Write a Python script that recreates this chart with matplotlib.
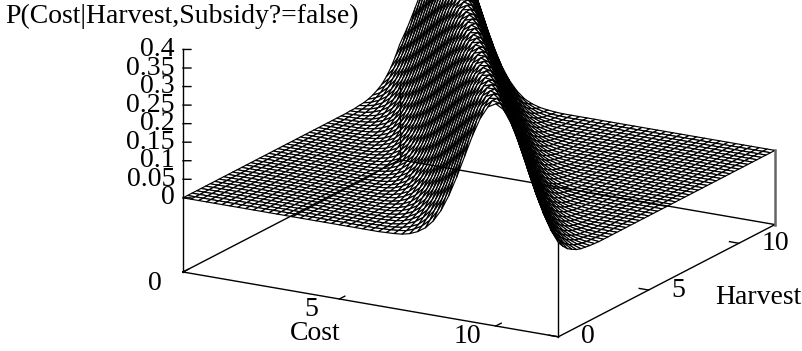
import numpy as np
import matplotlib
matplotlib.use('Agg')
import matplotlib.pyplot as plt
from mpl_toolkits.mplot3d import proj3d

# cost and harvest grid, 48 cells each way
cost = [0.25 * i for i in range(49)]
harvest = [0.25 * j for j in range(49)]

# density across the ridge (in thousandths), one row per sub-cell position of the ridge
ridge_rows = [
    [1,2,4,9,18,32,54,86,130,183,242,301,352,387,399,387,352,301,242,183,130,86,54,32,18,9,4,2,1],
    [1,2,4,9,17,30,51,83,125,177,236,296,348,384,399,389,356,307,248,188,135,90,57,34,19,10,5,2,1],
    [1,2,4,8,16,28,49,79,120,171,230,290,343,381,398,391,361,312,254,194,140,94,60,36,20,10,5,2,1],
    [1,2,4,7,15,27,46,75,115,166,224,284,338,378,398,393,364,318,260,200,145,98,62,38,21,11,6,3,1],
    [1,1,3,7,14,25,44,72,111,161,218,278,333,375,397,394,368,323,266,206,150,102,66,40,22,12,6,3,1],
    [1,1,3,6,13,24,42,69,107,155,212,272,328,372,396,396,372,328,272,212,155,107,69,42,24,13,6,3,1],
    [1,1,3,6,12,22,40,66,102,150,206,266,323,368,394,397,375,333,278,218,161,111,72,44,25,14,7,3,1],
    [1,1,3,6,11,21,38,62,98,145,200,260,318,364,393,398,378,338,284,224,166,115,75,46,27,15,7,4,2],
    [0,1,2,5,10,20,36,60,94,140,194,254,312,361,391,398,381,343,290,230,171,120,79,49,28,16,8,4,2],
    [0,1,2,5,10,19,34,57,90,135,188,248,307,356,389,399,384,348,296,236,177,125,83,51,30,17,9,4,2],
]
# for each harvest line: which ridge row it shows and the cost cell where that row starts
row_shape = [0,3,6,9,2,5,8,1,4,7, 0,3,6,9,2,5,8,1,4,7, 0,3,6,9,2,5,8,1,4,7,
             0,3,6,9,2,5,8,1,4,7, 0,3,6,9,2,5,8,1,4]
row_start = [26,25,24,23,23,22,21,21,20,19, 19,18,17,16,16,15,14,14,13,12,
             12,11,10,9,9,8,7,7,6,5, 5,4,3,2,2,1,0,0,-1,-2,
             -2,-3,-4,-5,-5,-6,-7,-7,-8]

z_ticks = [0, 0.05, 0.1, 0.15, 0.2, 0.25, 0.3, 0.35, 0.4]
z_labels = ['0', '0.05', '0.1', '0.15', '0.2', '0.25', '0.3', '0.35', '0.4']
cost_ticks = [0, 5, 10]
harvest_ticks = [0, 5, 10]

# build the surface
density = np.zeros((len(harvest), len(cost)))
for j, (shape, start) in enumerate(zip(row_shape, row_start)):
    for k, val in enumerate(ridge_rows[shape]):
        if 0 <= start + k < len(cost):
            density[j, start + k] = val / 1000

plt.rcParams['font.family'] = ['Liberation Serif']
W, H = 802, 351
fig = plt.figure(figsize=(W / 100, H / 100), dpi=100)
ax = fig.add_subplot(projection='3d', proj_type='ortho', computed_zorder=False)
ax.view_init(elev=17.4, azim=-60)
ax.set_box_aspect((433, 433, 233))
ax.set_xlim(0, 12, view_margin=0)
ax.set_ylim(0, 12, view_margin=0)
ax.set_zlim(-0.2, 0.4, view_margin=0)
ax.set_axis_off()
ax.patch.set_alpha(0)

# fit the box on the page: left corner at pixel (183,272), right corner at x=775
ax.M = ax.get_proj()
x0, y0, _ = proj3d.proj_transform(0, 0, -0.2, ax.M)
x1, y1, _ = proj3d.proj_transform(12, 12, -0.2, ax.M)
s = (775 - 183) / (x1 - x0)
vx0, vx1 = ax.viewLim.intervalx
vy0, vy1 = ax.viewLim.intervaly
left = 183 - s * (x0 - vx0)
bottom = (H - 272) - s * (y0 - vy0)
ax.set_position([left / W, bottom / H, s * (vx1 - vx0) / W, s * (vy1 - vy0) / H])

C, Hv = np.meshgrid(cost, harvest)
ax.plot_surface(C, Hv, density, rstride=1, cstride=1, color='white', edgecolor='black',
                linewidth=0.85, shade=False, antialiased=True, zorder=2)

# base of the box and verticals
line = dict(color='black', lw=1.0, zorder=3)
ax.plot([0, 12, 12, 0, 0], [0, 0, 12, 12, 0], [-0.2] * 5, **line)
ax.plot([0, 0], [0, 0], [-0.2, 0.4], **line)
ax.plot([12, 12], [0, 0], [-0.2, density[0, -1]], **line)
ax.plot([0, 0], [12, 12], [-0.2, 0.0], **line)
ax.plot([12, 12], [12, 12], [-0.2, 0.0], color='#666666', lw=1.8, zorder=3)


def label(c, h, z, text, dx, dy, ha):
    px, py, _ = proj3d.proj_transform(c, h, z, ax.M)
    ax.annotate(text, xy=(px, py), xytext=(dx, dy), textcoords='offset pixels', ha=ha, va='center',
                fontsize=20, annotation_clip=False, zorder=4)


for z, txt in zip(z_ticks, z_labels):
    ax.plot([0, 0.19], [0, 0.11], [z, z], **line)
    label(0, 0, z, txt, -8, 0, 'right')
for c in cost_ticks:
    ax.plot([c, c], [0, 0.3], [-0.2, -0.2], **line)
    label(c, 0, -0.2, str(c), -28, -11, 'center')
for h in harvest_ticks:
    ax.plot([12, 11.7], [h, h], [-0.2, -0.2], **line)
    label(12, h, -0.2, str(h), 23, 0, 'left')

fig.text(5 / W, 1 - 23 / H, 'P(Cost|Harvest,Subsidy?=false)', fontsize=20, ha='left', va='baseline')
fig.text(315 / W, 1 - 333 / H, 'Cost', fontsize=20, ha='center', va='center')
fig.text(758 / W, 1 - 298 / H, 'Harvest', fontsize=20, ha='center', va='center')

fig.savefig('out.png', dpi=100)
